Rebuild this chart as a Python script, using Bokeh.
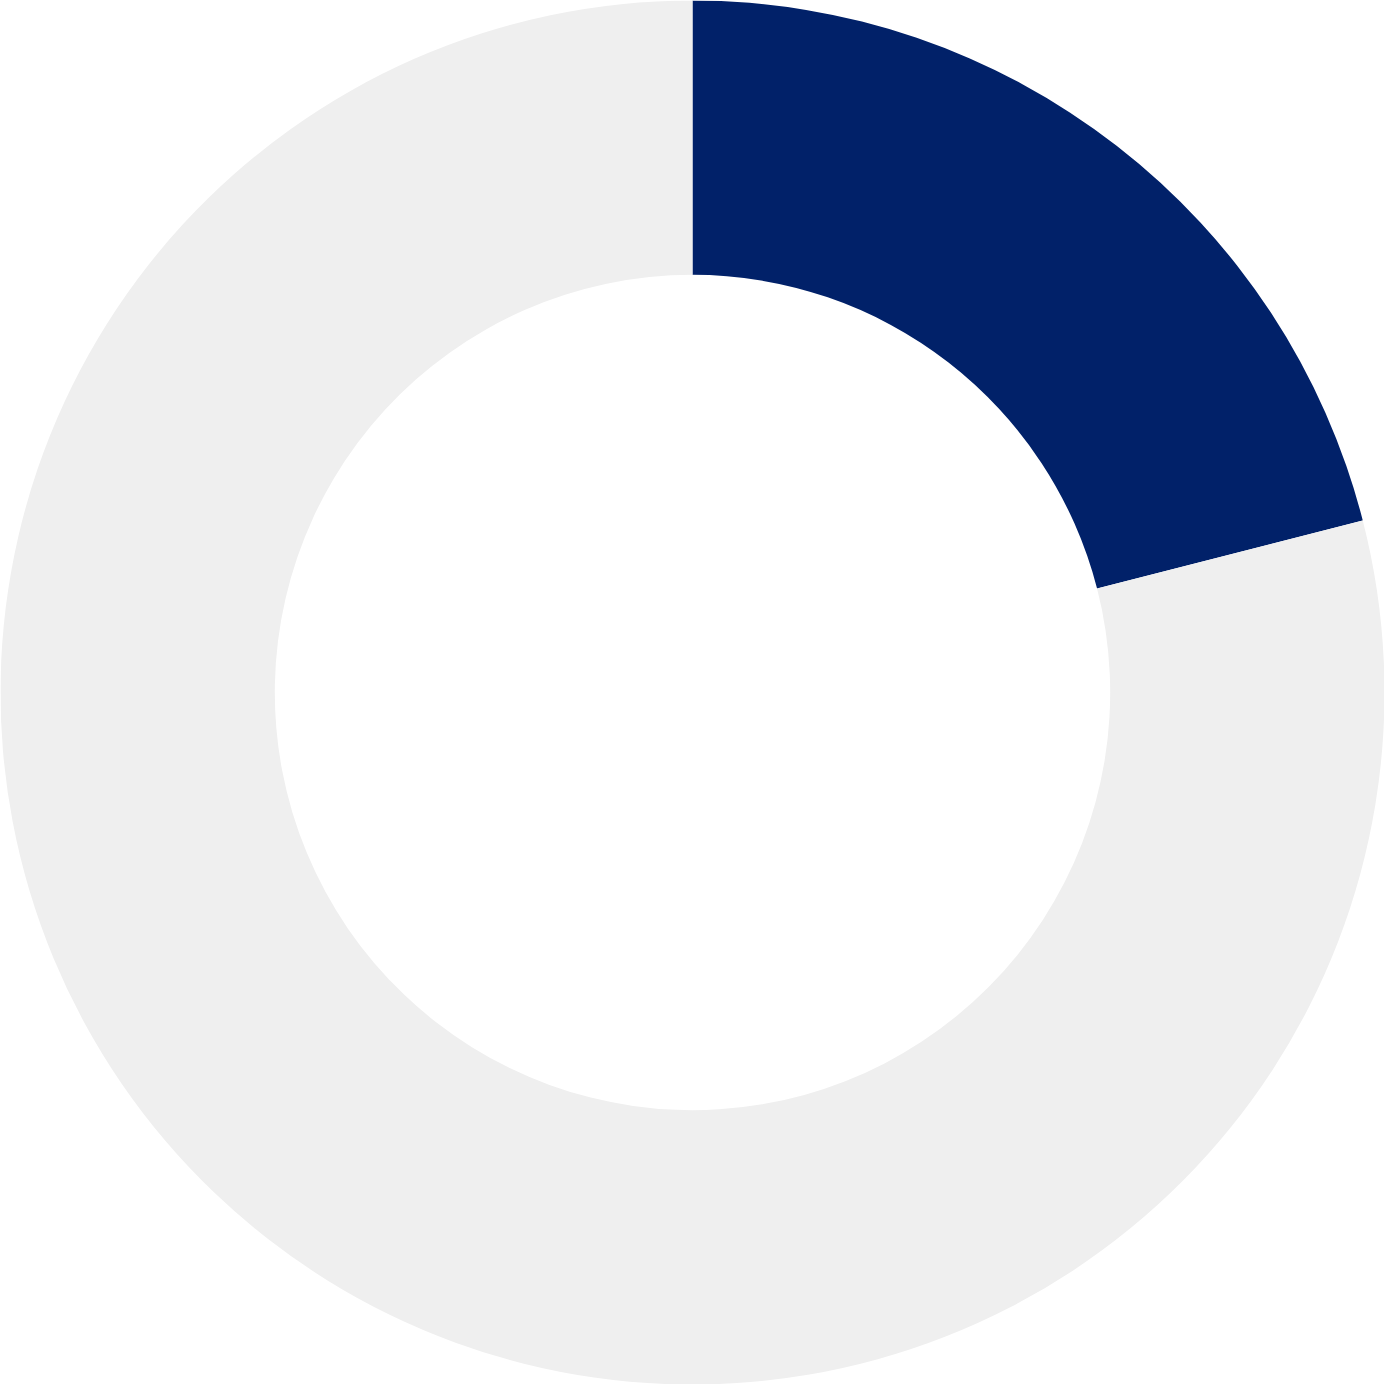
import math
from bokeh.plotting import figure
from bokeh.models import ColumnDataSource, Range1d
from bokeh.embed import file_html
from bokeh.resources import INLINE

labels = ["Value", "Remainder"]
values = [21, 79]
colors = ["#012169", "#EFEFEF"]

total = sum(values)
starts, ends = [], []
acc = 0.0
for v in values:
    s = math.pi / 2 - 2 * math.pi * acc / total
    acc += v
    e = math.pi / 2 - 2 * math.pi * acc / total
    starts.append(s)
    ends.append(e)

src = ColumnDataSource(dict(label=labels, value=values, color=colors,
                            start=starts, end=ends, x=[0, 0], y=[0, 0]))

p = figure(width=1384, height=1384, output_backend="svg", toolbar_location=None,
           x_range=Range1d(-1, 1), y_range=Range1d(-1, 1), min_border=0)
p.annular_wedge(x="x", y="y", inner_radius=0.6036, outer_radius=1.0,
                start_angle="start", end_angle="end", direction="clock",
                color="color", line_color=None, source=src)
p.axis.visible = False
p.grid.visible = False
p.outline_line_color = None
p.background_fill_color = "white"
p.border_fill_color = "white"

open("out.html", "w").write(file_html(p, INLINE))
